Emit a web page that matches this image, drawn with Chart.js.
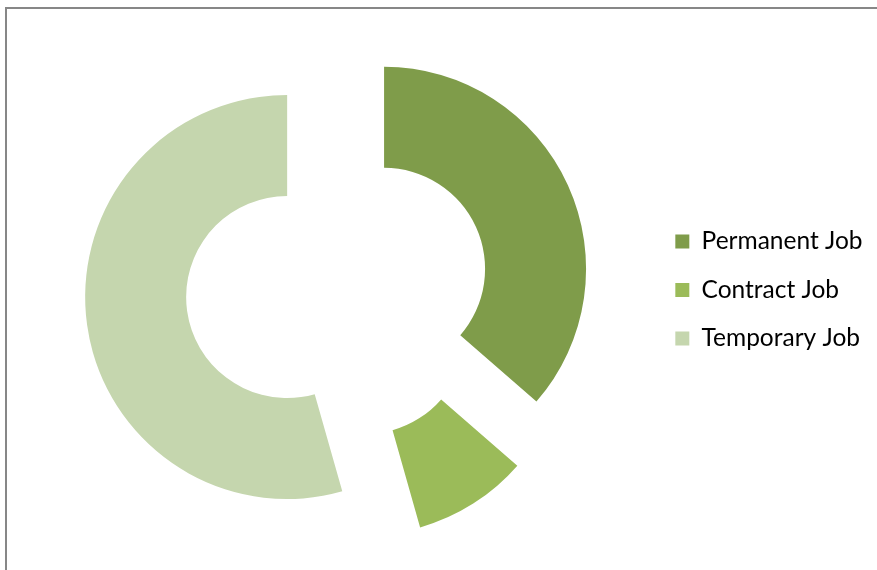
<!DOCTYPE html>
<html>
<head>
<meta charset="utf-8">
<script src="https://cdn.jsdelivr.net/npm/chart.js@4.4.1/dist/chart.umd.min.js"></script>
<style>
  html, body { margin: 0; padding: 0; background: #fff; overflow: hidden; }
  #wrap { position: relative; width: 877px; height: 570px; }
  #frame { position: absolute; left: 5px; top: 7px; width: 900px; height: 600px;
           border: 2px solid #878787; box-sizing: border-box; }
  #chart { position: absolute; left: 0; top: 0; }
</style>
</head>
<body>
<div id="wrap">
  <div id="frame"></div>
  <canvas id="chart" width="877" height="570"></canvas>
</div>
<script>
// Job type shares (%)
const jobTypes = ['Permanent Job', 'Contract Job', 'Temporary Job'];
const jobShares = [36.4, 9.2, 54.4];
const sliceColors = ['#7F9C4A', '#9BBB59', '#C5D6AE'];

// Pulls every slice outward along its bisector by a fixed distance.
const explodeSlices = {
  id: 'explodeSlices',
  afterDatasetsUpdate(chart, args, opts) {
    const d = opts.distance || 0;
    chart.getDatasetMeta(0).data.forEach(arc => {
      const mid = (arc.startAngle + arc.endAngle) / 2;
      arc.x += Math.cos(mid) * d;
      arc.y += Math.sin(mid) * d;
    });
  }
};

new Chart(document.getElementById('chart'), {
  type: 'doughnut',
  data: {
    labels: jobTypes,
    datasets: [{
      data: jobShares,
      backgroundColor: sliceColors,
      borderWidth: 0
    }]
  },
  options: {
    responsive: false,
    animation: false,
    events: [],
    radius: 202,
    cutout: '50%',
    layout: { padding: { left: 24, right: 4.5, top: 10, bottom: 0 } },
    plugins: {
      explodeSlices: { distance: 51 },
      tooltip: { enabled: false },
      legend: {
        position: 'right',
        align: 'center',
        labels: {
          boxWidth: 14,
          boxHeight: 14,
          padding: 24,
          color: '#000',
          font: { family: 'Lato', size: 24.5 }
        }
      }
    }
  },
  plugins: [explodeSlices]
});
</script>
</body>
</html>
